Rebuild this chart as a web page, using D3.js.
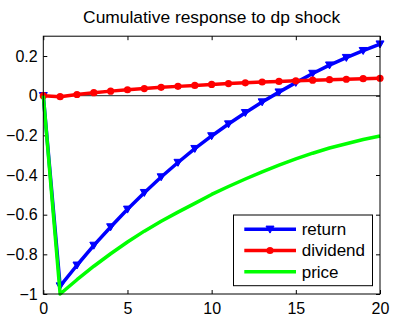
<!DOCTYPE html>
<html>
<head>
<meta charset="utf-8">
<script src="https://cdn.jsdelivr.net/npm/d3@7"></script>
<style>
  html, body { margin: 0; padding: 0; background: #fff; }
  svg { display: block; font-family: "Liberation Sans", Arial, Helvetica, sans-serif; }
</style>
</head>
<body>
<svg id="chart" width="393" height="321"></svg>
<script>
// Horizon (periods after the shock)
const periods = [0, 1, 2, 3, 4, 5, 6, 7, 8, 9, 10, 11, 12, 13, 14, 15, 16, 17, 18, 19, 20];

// Cumulative responses to a dividend-price shock
const returnResp = [0, -0.960, -0.855, -0.755, -0.662, -0.573, -0.489, -0.410, -0.337, -0.267,
                    -0.203, -0.143, -0.086, -0.032, 0.018, 0.066, 0.112, 0.154, 0.192, 0.227, 0.260];
const dividendResp = [0, -0.005, 0.006, 0.015, 0.023, 0.030, 0.036, 0.042, 0.047, 0.052,
                      0.057, 0.061, 0.065, 0.069, 0.072, 0.075, 0.078, 0.081, 0.083, 0.086, 0.088];
const priceResp = [0, -1.000, -0.928, -0.860, -0.797, -0.738, -0.683, -0.633, -0.587, -0.543,
                   -0.498, -0.458, -0.420, -0.384, -0.350, -0.319, -0.290, -0.264, -0.242, -0.221, -0.203];

const seriesNames = ["return", "dividend", "price"];
const xTicks = [0, 5, 10, 15, 20];
const yTicks = [-1, -0.8, -0.6, -0.4, -0.2, 0, 0.2];
const titleText = "Cumulative response to dp shock";

const svg = d3.select("#chart");
const plotLeft = 43.3, plotRight = 380, plotTop = 36.2, plotBottom = 294;

const x = d3.scaleLinear().domain([0, 20]).range([plotLeft, plotRight]);
const y = d3.scaleLinear().domain([-1, 0.3]).range([plotBottom, plotTop]);

const fmt = d3.format("");

// Axis ticks point inward, as on a boxed plot
svg.append("g")
  .attr("transform", `translate(0,${plotBottom})`)
  .call(d3.axisBottom(x).tickValues(xTicks).tickSize(-4).tickPadding(9).tickFormat(fmt))
  .call(g => g.select(".domain").remove())
  .call(g => g.selectAll("text").attr("font-size", 16).attr("fill", "#000").attr("font-family", null));

svg.append("g")
  .attr("transform", `translate(0,${plotTop})`)
  .call(d3.axisTop(x).tickValues(xTicks).tickSize(-4).tickFormat(""))
  .call(g => g.select(".domain").remove());

svg.append("g")
  .attr("transform", `translate(${plotLeft},0)`)
  .call(d3.axisLeft(y).tickValues(yTicks).tickSize(-4).tickPadding(5.6).tickFormat(fmt))
  .call(g => g.select(".domain").remove())
  .call(g => g.selectAll("text").attr("font-size", 16).attr("fill", "#000").attr("font-family", null));

svg.append("g")
  .attr("transform", `translate(${plotRight},0)`)
  .call(d3.axisRight(y).tickValues(yTicks).tickSize(-4).tickFormat(""))
  .call(g => g.select(".domain").remove());

svg.selectAll(".tick line").attr("stroke", "#000");

// Zero reference line
svg.append("line")
  .attr("x1", x(0)).attr("x2", x(20))
  .attr("y1", y(0)).attr("y2", y(0))
  .attr("stroke", "#222").attr("stroke-width", 1);

const line = d3.line().x((d, i) => x(periods[i])).y(d => y(d));

const plot = svg.append("g");

// return: blue line with downward triangles
plot.append("path").datum(returnResp)
  .attr("d", line).attr("fill", "none")
  .attr("stroke", "#0000ff").attr("stroke-width", 3.5).attr("stroke-linejoin", "round");
const tri = "M-4,-3.2L4,-3.2L0,3.8Z";
plot.selectAll(".tri").data(returnResp).join("path")
  .attr("class", "tri")
  .attr("d", tri)
  .attr("transform", (d, i) => `translate(${x(periods[i])},${y(d)})`)
  .attr("fill", "#0000ff").attr("stroke", "#0000ff").attr("stroke-width", 1);

// dividend: red line with dots
plot.append("path").datum(dividendResp)
  .attr("d", line).attr("fill", "none")
  .attr("stroke", "#ff0000").attr("stroke-width", 3.5).attr("stroke-linejoin", "round");
plot.selectAll(".dot").data(dividendResp).join("circle")
  .attr("class", "dot")
  .attr("cx", (d, i) => x(periods[i])).attr("cy", d => y(d))
  .attr("r", 3.6).attr("fill", "#ff0000");

// price: plain green line
plot.append("path").datum(priceResp)
  .attr("d", line)
  .attr("fill", "none")
  .attr("stroke", "#00ff00").attr("stroke-width", 3.5).attr("stroke-linejoin", "round");

// Axes box
svg.append("rect")
  .attr("x", plotLeft).attr("y", plotTop)
  .attr("width", plotRight - plotLeft).attr("height", plotBottom - plotTop)
  .attr("fill", "none").attr("stroke", "#000").attr("stroke-width", 1);

// Title
svg.append("text")
  .attr("x", (plotLeft + plotRight) / 2).attr("y", 22.5)
  .attr("text-anchor", "middle").attr("font-size", 17.4)
  .text(titleText);

// Legend
const legend = svg.append("g");
legend.append("rect")
  .attr("x", 233.5).attr("y", 215).attr("width", 139).attr("height", 70.7)
  .attr("fill", "#fff").attr("stroke", "#000").attr("stroke-width", 1);
const legendColors = ["#0000ff", "#ff0000", "#00ff00"];
const legendY = [229.3, 250.5, 271.7];
seriesNames.forEach((name, i) => {
  legend.append("line")
    .attr("x1", 244.3).attr("x2", 296)
    .attr("y1", legendY[i]).attr("y2", legendY[i])
    .attr("stroke", legendColors[i]).attr("stroke-width", 3.5);
  if (i === 0) {
    legend.append("path").attr("d", tri)
      .attr("transform", `translate(270,${legendY[i]})`)
      .attr("fill", "#0000ff").attr("stroke", "#0000ff");
  } else if (i === 1) {
    legend.append("circle").attr("cx", 270).attr("cy", legendY[i]).attr("r", 3.6).attr("fill", "#ff0000");
  }
  legend.append("text")
    .attr("x", 301.7).attr("y", legendY[i]).attr("dy", "0.35em")
    .attr("font-size", 17).text(name);
});
</script>
</body>
</html>
